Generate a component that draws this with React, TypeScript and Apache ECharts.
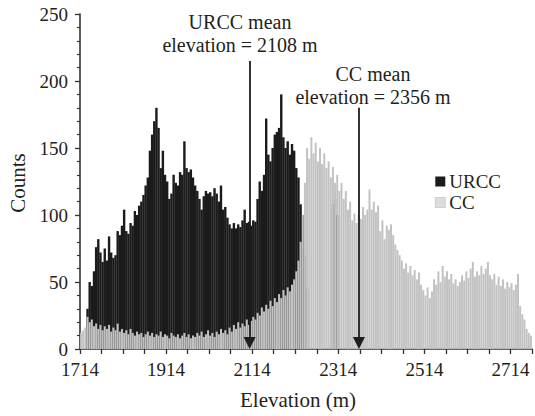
import React, { useEffect, useRef } from "react";
import * as echarts from "echarts";

// Histogram bins: 5 m wide, starting at 1714 m
const ELEV_START = 1714;
const BIN_WIDTH = 5;
const X_SPAN = 1050; // metres shown after ELEV_START
const X_TICK_STEP = 50;
const X_LABEL_STEP = 200;

const SERIES_NAMES = ["URCC", "CC"];

// URCC counts per 5 m bin (from 1714 m)
const URCC_COUNTS = [
  0, 0, 0, 30, 50, 47, 58, 76, 82, 72,
  65, 75, 66, 84, 72, 68, 70, 88, 85, 92,
  104, 88, 86, 94, 92, 103, 100, 107, 110, 115,
  122, 128, 148, 160, 170, 180, 165, 135, 148, 130,
  125, 112, 116, 130, 124, 122, 132, 130, 155, 135,
  132, 134, 128, 122, 118, 112, 104, 114, 118, 116,
  117, 114, 120, 116, 110, 122, 104, 106, 98, 93,
  90, 94, 90, 93, 91, 96, 104, 94, 95, 92,
  96, 95, 112, 125, 118, 130, 172, 145, 140, 150,
  160, 162, 165, 190, 158, 150, 155, 145, 153, 148,
  135, 128, 108, 100, 70, 45, 0, 0, 0, 0,
  0, 0, 0, 0, 0, 0, 0, 108, 112, 100,
];

// CC counts per 5 m bin (from 1714 m)
const CC_COUNTS = [
  12, 14, 16, 24, 20, 22, 17, 19, 15, 18,
  14, 17, 15, 18, 13, 16, 14, 19, 13, 15,
  12, 14, 11, 15, 12, 10, 13, 11, 12, 9,
  11, 13, 10, 12, 9, 11, 10, 13, 9, 11,
  10, 8, 12, 10, 9, 11, 8, 10, 12, 9,
  11, 8, 10, 9, 12, 10, 13, 9, 11, 14,
  10, 12, 9, 13, 11, 15, 12, 14, 11, 16,
  13, 18, 15, 20, 16, 19, 17, 22, 18, 21,
  24, 22, 27, 25, 31, 28, 33, 30, 36, 32,
  38, 35, 41, 38, 44, 40, 46, 43, 48, 52,
  58, 66, 80, 100, 124, 150, 142, 158, 146, 154,
  140, 150, 138, 146, 135, 140, 128, 136, 124, 130,
  118, 124, 112, 118, 104, 110, 96, 101, 94, 100,
  97, 106, 100, 104, 119, 104, 110, 102, 107, 88,
  96, 82, 92, 89, 93, 85, 78, 74, 70, 66,
  60, 64, 57, 62, 55, 59, 52, 57, 48, 44,
  40, 46, 38, 43, 52, 48, 58, 50, 62, 54,
  58, 52, 56, 49, 52, 47, 50, 55, 51, 58,
  53, 60, 65, 54, 58, 55, 62, 56, 60, 65,
  55, 52, 56, 48, 54, 47, 52, 45, 50, 46,
  49, 44, 48, 56, 32, 26, 22, 15, 12, 10,
];

// Mean-elevation annotations
const URCC_MEAN_TEXT = "URCC mean\nelevation = 2108 m";
const CC_MEAN_TEXT = "CC mean\nelevation = 2356 m";
const URCC_ARROW_X = 2108;
const CC_ARROW_X = 2362;
const URCC_ARROW_TOP = 215;
const CC_ARROW_TOP = 180;
const ARROW_TIP_LIFT = 4.5; // arrowhead is centred on the line end; lift it so the tip meets the axis

const FONT = "'Liberation Serif', 'Times New Roman', serif";
const TEXT_COLOR = "#231f20";

const toPoints = (counts: number[]) =>
  counts.map((c, i) => [i * BIN_WIDTH + BIN_WIDTH / 2, c]);

export default function App() {
  const ref = useRef<HTMLDivElement>(null);

  useEffect(() => {
    if (!ref.current) return;
    const chart = echarts.init(ref.current, undefined, { renderer: "svg" });

    const xAxisBase = {
      type: "value" as const,
      min: 0,
      max: X_SPAN,
      interval: X_TICK_STEP,
      splitLine: { show: false },
    };

    chart.setOption({
      animation: false,
      backgroundColor: "#ffffff",
      grid: { left: 80, right: 0, top: 14, bottom: 67 },
      legend: {
        data: [
          { name: SERIES_NAMES[0], itemStyle: { color: "#1b1b1b" } },
          { name: SERIES_NAMES[1], itemStyle: { color: "#dcdcdc", borderColor: "#b8b8b8", borderWidth: 0.6 } },
        ],
        orient: "vertical",
        left: 435,
        top: 172,
        padding: 0,
        itemWidth: 10,
        itemHeight: 10,
        itemGap: 2,
        icon: "rect",
        textStyle: { fontSize: 19, fontFamily: FONT, color: TEXT_COLOR, padding: [0, 0, 0, -1] },
        selectedMode: false,
      },
      xAxis: [
        {
          ...xAxisBase,
          axisLine: { show: true, lineStyle: { color: "#333", width: 1.6 } },
          axisTick: { show: true, length: 5, lineStyle: { color: "#333", width: 1.3 } },
          axisLabel: {
            fontSize: 19,
            fontFamily: FONT,
            color: TEXT_COLOR,
            margin: 11,
            formatter: (v: number) =>
              v % X_LABEL_STEP === 0 ? String(v + ELEV_START) : "",
          },
        },
        { ...xAxisBase, show: false },
      ],
      yAxis: {
        type: "value",
        min: 0,
        max: 250,
        interval: 50,
        splitLine: { show: false },
        axisLine: { show: true, lineStyle: { color: "#333", width: 1.6 } },
        axisTick: { show: true, length: 5, lineStyle: { color: "#333", width: 1.3 } },
        minorTick: { show: true, splitNumber: 5, length: 3, lineStyle: { color: "#333", width: 1.2 } },
        axisLabel: { fontSize: 19, fontFamily: FONT, color: TEXT_COLOR, margin: 12 },
      },
      series: [
        {
          name: SERIES_NAMES[0],
          type: "bar",
          xAxisIndex: 0,
          data: toPoints(URCC_COUNTS),
          barWidth: 2.4,
          itemStyle: { color: "#1b1b1b" },
          z: 2,
        },
        {
          name: SERIES_NAMES[1],
          type: "bar",
          xAxisIndex: 1,
          data: toPoints(CC_COUNTS),
          barWidth: 2.0,
          itemStyle: { color: "#c2c2c2" },
          z: 3,
        },
        {
          name: "means",
          type: "line",
          xAxisIndex: 0,
          data: [],
          z: 6,
          markLine: {
            silent: true,
            symbol: ["none", "triangle"],
            symbolSize: 12,
            label: { show: false },
            lineStyle: { color: "#1e1e1e", width: 1.8, type: "solid" },
            itemStyle: { color: "#1e1e1e" },
            data: [
              [
                { coord: [URCC_ARROW_X - ELEV_START, URCC_ARROW_TOP] },
                { coord: [URCC_ARROW_X - ELEV_START, ARROW_TIP_LIFT] },
              ],
              [
                { coord: [CC_ARROW_X - ELEV_START, CC_ARROW_TOP] },
                { coord: [CC_ARROW_X - ELEV_START, ARROW_TIP_LIFT] },
              ],
            ],
          },
        },
      ],
      graphic: [
        {
          type: "text",
          x: 240,
          y: 10,
          style: {
            text: URCC_MEAN_TEXT,
            fontSize: 20,
            lineHeight: 23,
            fontFamily: FONT,
            fill: TEXT_COLOR,
            textAlign: "center",
            textVerticalAlign: "top",
          },
        },
        {
          type: "text",
          x: 373,
          y: 62,
          style: {
            text: CC_MEAN_TEXT,
            fontSize: 20,
            lineHeight: 23,
            fontFamily: FONT,
            fill: TEXT_COLOR,
            textAlign: "center",
            textVerticalAlign: "top",
          },
        },
        {
          type: "text",
          x: 298,
          y: 400,
          style: {
            text: "Elevation (m)",
            fontSize: 21,
            fontFamily: FONT,
            fill: TEXT_COLOR,
            textAlign: "center",
            textVerticalAlign: "middle",
          },
        },
        {
          type: "text",
          x: 18,
          y: 183,
          rotation: Math.PI / 2,
          style: {
            text: "Counts",
            fontSize: 21,
            fontFamily: FONT,
            fill: TEXT_COLOR,
            textAlign: "center",
            textVerticalAlign: "middle",
          },
        },
      ],
    });

    return () => chart.dispose();
  }, []);

  return (
    <div
      ref={ref}
      style={{ position: "fixed", left: 0, top: 0, width: 535, height: 416, background: "#fff" }}
    />
  );
}
